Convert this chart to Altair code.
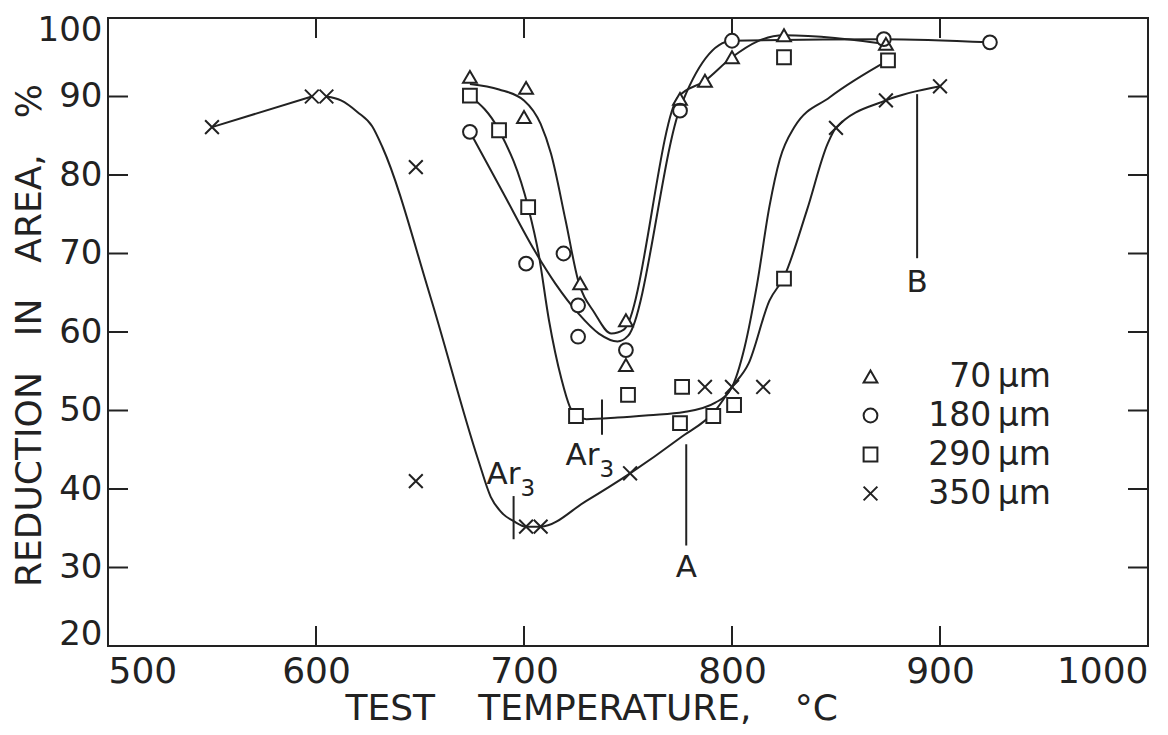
import altair as alt
import pandas as pd

# ---------------- data ----------------
series_names = ["70\u2009µm", "180\u2009µm", "290\u2009µm", "350\u2009µm"]
series_shapes = ["triangle-up", "circle", "square", "M-1,-1L1,1M1,-1L-1,1"]

# measured points (temperature °C, reduction in area %)
t70_T = [674, 701, 700, 727, 749, 749, 775, 787, 800, 825, 874]
t70_R = [92.5, 91.1, 87.4, 66.2, 61.5, 55.8, 89.7, 92.0, 95.0, 97.8, 96.7]
c180_T = [674, 701, 719, 726, 726, 749, 775, 800, 873, 924]
c180_R = [85.5, 68.7, 70.0, 63.4, 59.4, 57.7, 88.2, 97.1, 97.3, 96.9]
s290_T = [674, 688, 702, 725, 750, 775, 776, 791, 801, 825, 825, 875]
s290_R = [90.1, 85.7, 75.9, 49.3, 52.0, 48.4, 53.0, 49.3, 50.7, 66.8, 95.0, 94.6]
x350_T = [550, 598, 605, 648, 648, 701, 708, 751, 787, 800, 815, 850, 874, 900]
x350_R = [86.1, 90.0, 90.0, 81.0, 41.0, 35.2, 35.2, 42.0, 53.0, 53.0, 53.0, 86.0, 89.5, 91.3]

# hand-drawn fit curves
fit70_T = [674, 688, 700, 708, 713, 720, 726, 734, 742, 748, 774, 787, 800, 812, 825, 874]
fit70_R = [91.6, 90.9, 89.5, 86.5, 82.7, 74.2, 66.6, 62.4, 59.8, 60.3, 89.9, 92.0, 95.0, 97.0, 97.8, 96.7]
fit180_T = [674, 690, 705, 715, 726, 736, 745, 750, 775, 800, 873, 924]
fit180_R = [85.5, 77.7, 70.4, 66.2, 62.4, 59.8, 58.8, 59.5, 88.5, 97.1, 97.3, 96.9]
fit290_T = [674, 688, 702, 707, 712, 718, 722, 725, 730, 745, 760, 777, 792, 800,
            806, 812, 818, 823, 830, 847, 875]
fit290_R = [90.1, 85.7, 75.9, 70.0, 61.5, 54.0, 50.5, 49.3, 48.9, 49.1, 49.4, 49.8, 51.0, 53.0,
            58.0, 66.0, 76.0, 82.0, 86.1, 89.9, 94.6]
fit350a_T = [550, 598]
fit350a_R = [86.1, 90.0]
fit350b_T = [605, 612, 620, 627, 632, 655, 678, 684, 690, 695, 701, 708, 730, 751, 775,
             792, 800, 808, 818, 825, 836, 846, 850, 874, 900]
fit350b_R = [90.0, 89.5, 88.0, 86.2, 83.5, 64.5, 43.7, 39.0, 36.8, 35.9, 35.2, 35.2, 38.5, 42.0, 46.5,
             50.0, 53.0, 56.0, 64.0, 67.0, 75.5, 84.0, 86.0, 89.5, 91.3]

# annotation lines (Ar3 marks, A and B leaders)
ann_T = [695, 737.5, 778, 889]
ann_lo = [33.6, 46.9, 32.8, 69.4]
ann_hi = [39.1, 51.4, 45.7, 90.3]

ar_text = ["Ar", "Ar"]
ar_sub = ["3", "3"]
ar_T = [682, 720]
ar_R = [40.6, 43.1]
ab_text = ["A", "B"]
ab_T = [778, 889]
ab_R = [30.0, 66.2]

x_labels = [500, 600, 700, 800, 900, 1000]
y_labels = [20, 30, 40, 50, 60, 70, 80, 90, 100]
x_inner_ticks = [600, 700, 800, 900]
y_inner_ticks = [30, 40, 50, 60, 70, 80, 90]

# ---------------- tables ----------------
pts = pd.concat([
    pd.DataFrame({"T": t70_T, "R": t70_R, "grain": series_names[0]}),
    pd.DataFrame({"T": c180_T, "R": c180_R, "grain": series_names[1]}),
    pd.DataFrame({"T": s290_T, "R": s290_R, "grain": series_names[2]}),
    pd.DataFrame({"T": x350_T, "R": x350_R, "grain": series_names[3]}),
], ignore_index=True)
pts["under"] = pts["grain"]

fits = pd.concat([
    pd.DataFrame({"T": fit70_T, "R": fit70_R, "curve": "70"}),
    pd.DataFrame({"T": fit180_T, "R": fit180_R, "curve": "180"}),
    pd.DataFrame({"T": fit290_T, "R": fit290_R, "curve": "290"}),
    pd.DataFrame({"T": fit350a_T, "R": fit350a_R, "curve": "350a"}),
    pd.DataFrame({"T": fit350b_T, "R": fit350b_R, "curve": "350b"}),
], ignore_index=True)

ann = pd.DataFrame({"T": ann_T, "lo": ann_lo, "hi": ann_hi})
ar_df = pd.DataFrame({"T": ar_T, "R": ar_R, "txt": ar_text, "sub": ar_sub})
ab_df = pd.DataFrame({"T": ab_T, "R": ab_R, "txt": ab_text})
xt = pd.DataFrame({"t": x_inner_ticks})
yt = pd.DataFrame({"t": y_inner_ticks})

# ---------------- styling ----------------
W, H = 1040, 628
INK = "#222222"
FONT = "DejaVu Sans"
TICK = 20
MSIZE = 190

xscale = alt.Scale(domain=[500, 1000], nice=False, zero=False)
yscale = alt.Scale(domain=[20, 100], nice=False, zero=False)

XAXIS = alt.Axis(
    values=x_labels, format="d", labelFlush=True, ticks=False, domain=False, grid=False,
    labelFont=FONT, labelFontSize=36, labelColor=INK, labelPadding=8,
    title="TEST\u2003\u2009TEMPERATURE,\u2003\u2009°C",
    titleFont=FONT, titleFontSize=36, titleFontWeight="normal", titleColor=INK,
    titleX=237, titleY=73, titleAlign="left", titleBaseline="alphabetic",
)
YAXIS = alt.Axis(
    values=y_labels, format="d", labelFlush=True, labelFlushOffset=5,
    ticks=False, domain=False, grid=False,
    labelFont=FONT, labelFontSize=34, labelColor=INK, labelPadding=6,
    title="REDUCTION\u2003IN\u2003AREA,\u2003%",
    titleFont=FONT, titleFontSize=36, titleFontWeight="normal", titleColor=INK,
    titleAngle=270, titleX=-79, titleY=317, titleAlign="center", titleBaseline="middle",
)


def X(field):
    return alt.X(field, type="quantitative", scale=xscale, axis=XAXIS)


def Y(field):
    return alt.Y(field, type="quantitative", scale=yscale, axis=YAXIS)


lines = alt.Chart(fits).mark_line(
    interpolate="monotone", color=INK, strokeWidth=2
).encode(x=X("T"), y=Y("R"), detail="curve:N", order="T:Q")

rules = alt.Chart(ann).mark_rule(color=INK, strokeWidth=2).encode(
    x=X("T"), y=Y("lo"), y2="hi:Q"
)

# white underlay so that lines stop at the open markers (own shape scale, no legend)
under = alt.Chart(pts).mark_point(
    filled=True, color="white", size=MSIZE, opacity=1
).encode(
    x=X("T"), y=Y("R"),
    shape=alt.Shape("under:N", scale=alt.Scale(domain=series_names, range=series_shapes),
                    legend=None),
)

points = alt.Chart(pts).mark_point(
    filled=False, color=INK, strokeWidth=2, size=MSIZE, opacity=1
).encode(
    x=X("T"), y=Y("R"),
    shape=alt.Shape(
        "grain:N",
        scale=alt.Scale(domain=series_names, range=series_shapes),
        legend=alt.Legend(
            title=None, orient="none", legendX=746, legendY=342, padding=0,
            labelFont=FONT, labelFontSize=33, labelColor=INK,
            labelAlign="right", labelOffset=164, labelLimit=400,
            rowPadding=5, symbolSize=MSIZE, symbolStrokeWidth=2,
        ),
    ),
)

ar_text_layer = alt.Chart(ar_df).mark_text(
    font=FONT, fontSize=31, color=INK, align="left", baseline="alphabetic"
).encode(x=X("T"), y=Y("R"), text="txt:N")

ar_sub_layer = alt.Chart(ar_df).mark_text(
    font=FONT, fontSize=23, color=INK, align="left", baseline="alphabetic", dx=34, dy=12
).encode(x=X("T"), y=Y("R"), text="sub:N")

ab_text_layer = alt.Chart(ab_df).mark_text(
    font=FONT, fontSize=31, color=INK, align="center", baseline="middle"
).encode(x=X("T"), y=Y("R"), text="txt:N")

tick_bottom = alt.Chart(xt).mark_rule(color=INK, strokeWidth=2).encode(
    x=X("t"), y=alt.value(H), y2=alt.value(H - TICK))
tick_top = alt.Chart(xt).mark_rule(color=INK, strokeWidth=2).encode(
    x=X("t"), y=alt.value(0), y2=alt.value(TICK))
tick_left = alt.Chart(yt).mark_rule(color=INK, strokeWidth=2).encode(
    y=Y("t"), x=alt.value(0), x2=alt.value(TICK))
tick_right = alt.Chart(yt).mark_rule(color=INK, strokeWidth=2).encode(
    y=Y("t"), x=alt.value(W), x2=alt.value(W - TICK))

chart = alt.layer(
    tick_bottom, tick_top, tick_left, tick_right,
    lines, rules, under, points, ar_text_layer, ar_sub_layer, ab_text_layer,
).resolve_scale(
    shape="independent"
).properties(
    width=W, height=H,
    autosize=alt.AutoSizeParams(type="none"),
    padding={"left": 100, "top": 10, "right": 10, "bottom": 88},
    background="white",
).configure_view(
    stroke=INK, strokeWidth=2
)

chart.save("out.html", embed_options={"renderer": "svg", "actions": False})
